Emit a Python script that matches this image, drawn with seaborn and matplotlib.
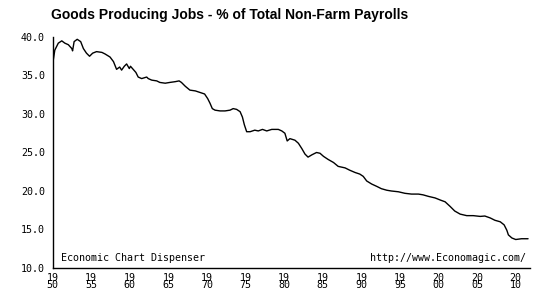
import matplotlib
matplotlib.use("Agg")
import matplotlib.pyplot as plt
import seaborn as sns
import pandas as pd

years = [1950.1, 1950.3, 1950.75, 1951.2, 1951.6, 1952.05, 1952.5, 1952.6, 1952.8, 1953.2,
         1953.65, 1954.0, 1954.4, 1954.8, 1955.2, 1955.7, 1956.4, 1956.8, 1957.45, 1957.9,
         1958.3, 1958.7, 1958.95, 1959.3, 1959.6, 1959.95, 1960.1, 1960.45, 1960.8, 1961.1,
         1961.55, 1962.2, 1962.4, 1962.85, 1963.5, 1963.9, 1964.6, 1965.2, 1965.9, 1966.4,
         1966.7, 1967.2, 1967.8, 1968.5, 1969.1, 1969.7, 1970.1, 1970.4, 1970.7, 1971.05,
         1971.7, 1972.35, 1973.0, 1973.4, 1973.85, 1974.3, 1974.6, 1974.85, 1975.15, 1975.6,
         1976.2, 1976.65, 1977.2, 1977.75, 1978.4, 1979.25, 1979.7, 1980.1, 1980.4, 1980.75,
         1981.4, 1981.85, 1982.3, 1982.7, 1983.1, 1983.6, 1984.2, 1984.65, 1985.1, 1985.7,
         1986.4, 1987.0, 1987.9, 1988.5, 1989.2, 1989.8, 1990.25, 1990.7, 1991.35, 1992.0,
         1992.6, 1993.3, 1993.9, 1994.8, 1995.65, 1996.5, 1997.4, 1998.0, 1998.7, 1999.55,
         2000.3, 2000.85, 2001.5, 2002.1, 2002.8, 2003.65, 2004.5, 2005.4, 2006.0, 2006.7,
         2007.3, 2008.0, 2008.5, 2008.85, 2009.05, 2009.5, 2010.0, 2010.75, 2011.6]
share = [37.0, 38.3, 39.2, 39.5, 39.2, 39.0, 38.5, 38.2, 39.4, 39.7,
         39.4, 38.5, 37.9, 37.5, 37.9, 38.1, 38.0, 37.8, 37.4, 36.8,
         35.8, 36.1, 35.7, 36.2, 36.5, 35.9, 36.2, 35.8, 35.4, 34.8,
         34.6, 34.8, 34.6, 34.4, 34.3, 34.1, 34.0, 34.1, 34.2, 34.3,
         34.1, 33.6, 33.1, 33.0, 32.8, 32.6, 32.0, 31.4, 30.7, 30.5,
         30.4, 30.4, 30.5, 30.7, 30.6, 30.3, 29.6, 28.6, 27.7, 27.7,
         27.9, 27.8, 28.0, 27.8, 28.0, 28.0, 27.8, 27.5, 26.5, 26.8,
         26.6, 26.2, 25.5, 24.8, 24.4, 24.7, 25.0, 24.9, 24.5, 24.1,
         23.7, 23.2, 23.0, 22.7, 22.4, 22.2, 21.9, 21.3, 20.9, 20.6,
         20.3, 20.1, 20.0, 19.9, 19.7, 19.6, 19.6, 19.5, 19.3, 19.1,
         18.8, 18.6, 18.0, 17.4, 17.0, 16.8, 16.8, 16.7, 16.75, 16.5,
         16.2, 16.0, 15.6, 14.9, 14.3, 13.9, 13.7, 13.8, 13.8]

y_ticks = [10, 15, 20, 25, 30, 35, 40]
y_labels = ["10.0", "15.0", "20.0", "25.0", "30.0", "35.0", "40.0"]
x_ticks = [1950, 1955, 1960, 1965, 1970, 1975, 1980, 1985, 1990, 1995, 2000, 2005, 2010]
x_labels = ["19\n50", "19\n55", "19\n60", "19\n65", "19\n70", "19\n75", "19\n80",
            "19\n85", "19\n90", "19\n95", "20\n00", "20\n05", "20\n10"]
title = "Goods Producing Jobs - % of Total Non-Farm Payrolls"
note_left = "Economic Chart Dispenser"
note_right = "http://www.Economagic.com/"

sns.set_style("white")
plt.rcParams['font.family'] = ['DejaVu Sans Mono']
plt.rcParams['text.color'] = 'black'

df = pd.DataFrame({"year": years, "share": share})

fig = plt.figure(figsize=(5.45, 2.9), dpi=100)
ax = fig.add_axes([52.5 / 545, 1 - 268 / 290, (530 - 52.5) / 545, (268 - 37) / 290])
sns.lineplot(data=df, x="year", y="share", ax=ax, color="black", linewidth=1.0)

ax.set_xlim(1950, 2011.85)
ax.set_ylim(10, 40)
ax.set_xticks(x_ticks)
ax.set_xticklabels(x_labels, linespacing=0.7)
ax.set_yticks(y_ticks)
ax.set_yticklabels(y_labels)
ax.tick_params(axis="both", direction="inout", length=7, width=1, colors="black",
               labelsize=7.2, pad=2)
ax.tick_params(axis="x", pad=0)
ax.set_xlabel("")
ax.set_ylabel("")
for side in ["top", "right"]:
    ax.spines[side].set_visible(False)
for side in ["left", "bottom"]:
    ax.spines[side].set_color("black")
    ax.spines[side].set_linewidth(1.0)

ax.text(0.017, 0.022, note_left, transform=ax.transAxes, fontsize=7.2,
        ha="left", va="bottom", color="black")
ax.text(0.992, 0.022, note_right, transform=ax.transAxes, fontsize=7.2,
        ha="right", va="bottom", color="black")

fig.text(230 / 545, 1 - 15 / 290, title, ha="center", va="center", color="black",
         fontsize=10, fontweight="bold", family=["Liberation Sans"])

fig.savefig("out.png", dpi=100)
